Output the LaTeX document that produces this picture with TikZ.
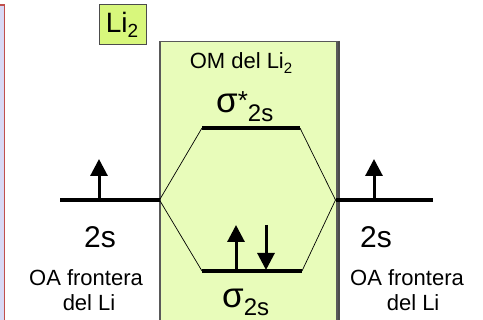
\documentclass[tikz,border=0pt]{standalone}
\usepackage{fontspec}
\setmainfont{Liberation Sans}
\usetikzlibrary{arrows.meta}
\definecolor{boxgreen}{HTML}{E8FCBA}
\definecolor{labgreen}{HTML}{D8F77C}
\definecolor{lav}{HTML}{D9D9F5}
\definecolor{redline}{HTML}{C0504D}
\begin{document}
\begin{tikzpicture}[x=1pt,y=-1pt,
  level/.style={line width=3.2pt},
  link/.style={line width=0.7pt},
  spin/.style={line width=3pt,-{Triangle[length=17pt,width=17pt]}},
  big/.style={font=\fontsize{30}{34}\selectfont},
  small/.style={font=\fontsize{22}{25}\selectfont, align=center},
  sig/.style={font=\fontsize{35}{38}\selectfont, inner sep=0pt}]
\useasboundingbox (0,0) rectangle (483,320);
% left strip
\fill[lav] (-10,5) rectangle (4.5,330);
\draw[redline, line width=1.3pt] (-10,5) -- (4.5,5) -- (4.5,330);
% green box
\node[draw=gray!70!black, line width=1.5pt, fill=boxgreen, minimum width=177pt, minimum height=290pt, anchor=north west, inner sep=0pt] (om) at (159,41) {};
\draw[gray!60!black, line width=1.2pt] ([xshift=1.5pt]om.north east) -- ([xshift=1.5pt]om.south east);
% Li2 label
\node[draw=gray!60!black, line width=1pt, fill=labgreen, minimum width=47pt, minimum height=40pt, inner sep=0pt, anchor=north west] (lab) at (99,4) {};
\node[font=\fontsize{28}{32}\selectfont] (labt) at (122,25) {Li\raisebox{-5pt}{\fontsize{19}{20}\selectfont 2}};
% title
\node[font=\fontsize{22}{26}\selectfont] (omt) at (241,63) {OM del Li\raisebox{-5pt}{\fontsize{15}{16}\selectfont 2}};
% coordinates
\coordinate (aoLl) at (60,200);
\coordinate (aoLr) at (159.5,200);
\coordinate (aoRl) at (335.5,200);
\coordinate (aoRr) at (433,200);
\coordinate (asl) at (202,128);
\coordinate (asr) at (300,128);
\coordinate (bl) at (202,271);
\coordinate (br) at (302,271);
% levels
\draw[level] (aoLl) -- (aoLr);
\draw[level] (aoRl) -- (aoRr);
\draw[level] (asl) -- (asr);
\draw[level] (bl) -- (br);
% links
\draw[link] (aoLr) -- (asl);
\draw[link] (aoLr) -- (bl);
\draw[link] (aoRl) -- (asr);
\draw[link] (aoRl) -- (br);
% spins
\coordinate (s1a) at (99,201); \coordinate (s1b) at (99,159);
\coordinate (s2a) at (374,201); \coordinate (s2b) at (374,159);
\coordinate (s3a) at (236,272); \coordinate (s3b) at (236,225);
\coordinate (s4a) at (266,225); \coordinate (s4b) at (266,270);
\draw[spin] (s1a) -- (s1b);
\draw[spin] (s2a) -- (s2b);
\draw[spin] (s3a) -- (s3b);
\draw[spin] (s4a) -- (s4b);
% labels
\node[big] (l2sL) at (100,237) {2s};
\node[big] (l2sR) at (376,237) {2s};
\node[small] (oaL) at (86,290) {OA frontera\\\ del Li};
\node[small] (oaR) at (407,290) {OA frontera\\\ \ del Li};
\node[sig, anchor=base west] (sstar) at (216,113) {σ\raisebox{3pt}{\fontsize{26}{28}\selectfont *}\raisebox{-9pt}{\fontsize{24}{26}\selectfont 2s}};
\node[sig, anchor=base west] (sb) at (222,308) {σ\raisebox{-8pt}{\fontsize{24}{26}\selectfont 2s}};
\end{tikzpicture}
\end{document}
